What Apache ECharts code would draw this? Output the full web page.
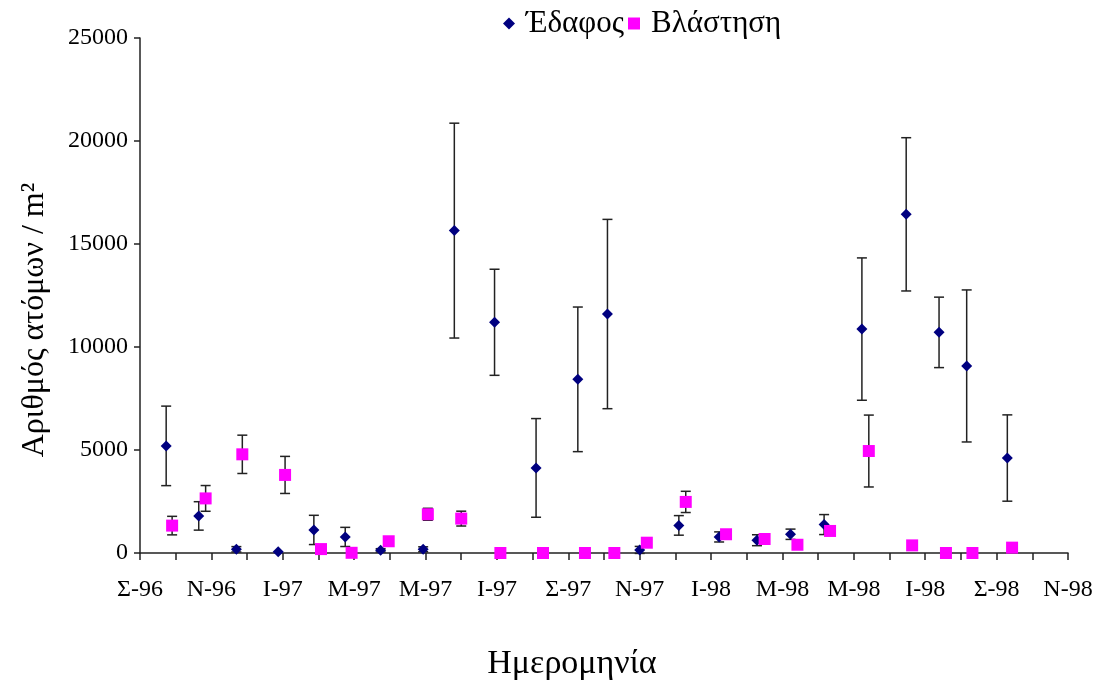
<!DOCTYPE html>
<html>
<head>
<meta charset="utf-8">
<script src="https://cdn.jsdelivr.net/npm/echarts@6/dist/echarts.min.js"></script>
<style>
  html, body { margin: 0; padding: 0; background: #fff; }
  #chart { width: 1099px; height: 684px; }
</style>
</head>
<body>
<div id="chart"></div>
<script>
  // tick labels, one for every second month from Sep 1996
  var monthLabels = ['Σ-96', 'Ν-96', 'Ι-97', 'Μ-97', 'Μ-97', 'Ι-97', 'Σ-97', 'Ν-97', 'Ι-98', 'Μ-98', 'Μ-98', 'Ι-98', 'Σ-98', 'Ν-98']

  // sampling dates and values (individuals / m2) with +/- error
  var soilDates = ['1996-09-23', '1996-10-21', '1996-11-22', '1996-12-28', '1997-01-28', '1997-02-22',
    '1997-03-24', '1997-04-29', '1997-05-26', '1997-06-29', '1997-08-04', '1997-09-09',
    '1997-10-04', '1997-11-01', '1997-12-04', '1998-01-08', '1998-02-09', '1998-03-08',
    '1998-04-06', '1998-05-08', '1998-06-15', '1998-07-13', '1998-08-06', '1998-09-10']
  var soilValues = [5200, 1800, 180, 60, 1120, 780, 130, 180, 15650, 11200, 4130, 8430,
    11600, 150, 1340, 780, 620, 910, 1380, 10870, 16440, 10710, 9080, 4610]
  var soilErrors = [1930, 690, 130, 0, 710, 465, 80, 120, 5215, 2575, 2395, 3510,
    4595, 170, 475, 245, 265, 250, 485, 3455, 3720, 1710, 3690, 2095]

  var vegDates = ['1996-09-28', '1996-10-27', '1996-11-27', '1997-01-03', '1997-02-03', '1997-02-27',
    '1997-03-31', '1997-05-03', '1997-06-01', '1997-07-04', '1997-08-10', '1997-09-15',
    '1997-10-10', '1997-11-07', '1997-12-10', '1998-01-14', '1998-02-15', '1998-03-14',
    '1998-04-11', '1998-05-14', '1998-06-20', '1998-07-19', '1998-08-11', '1998-09-14']
  var vegValues = [1330, 2650, 4790, 3790, 190, 10, 570, 1880, 1670, 0, 0, 0,
    0, 500, 2480, 910, 680, 400, 1070, 4950, 370, 0, 0, 260]
  var vegErrors = [450, 625, 930, 900, 0, 0, 0, 290, 360, 0, 0, 0,
    0, 0, 515, 0, 0, 0, 0, 1745, 0, 0, 0, 0]

  // months since 1 Sep 1996
  function monthPos (s) {
    var p = s.split('-')
    var y = +p[0], m = +p[1], d = +p[2]
    var days = new Date(y, m, 0).getDate()
    return (y - 1996) * 12 + (m - 9) + (d - 1) / days
  }

  function points (dates, vals) {
    return dates.map(function (d, i) { return [monthPos(d), vals[i]] })
  }
  function bars (dates, vals, errs) {
    var out = []
    dates.forEach(function (d, i) {
      if (errs[i] > 0) out.push([monthPos(d), vals[i] - errs[i], vals[i] + errs[i]])
    })
    return out
  }

  function renderErr (params, api) {
    var lo = api.coord([api.value(0), api.value(1)])
    var hi = api.coord([api.value(0), api.value(2)])
    var w = 5
    var st = { stroke: '#222', lineWidth: 1.5 }
    return {
      type: 'group',
      children: [
        { type: 'line', shape: { x1: lo[0], y1: lo[1], x2: hi[0], y2: hi[1] }, style: st },
        { type: 'line', shape: { x1: lo[0] - w, y1: lo[1], x2: lo[0] + w, y2: lo[1] }, style: st },
        { type: 'line', shape: { x1: hi[0] - w, y1: hi[1], x2: hi[0] + w, y2: hi[1] }, style: st }
      ]
    }
  }

  var font = '"Liberation Serif", "DejaVu Serif", serif'
  var myChart = echarts.init(document.getElementById('chart'))
  myChart.setOption({
    animation: false,
    textStyle: { fontFamily: font },
    grid: { left: 140, right: 31, top: 38, bottom: 131 },
    legend: {
      top: 3,
      left: 498,
      itemGap: 4,
      itemWidth: 12,
      itemHeight: 12,
      textStyle: { fontFamily: font, fontSize: 31, color: '#000', padding: [0, 0, 0, 6] },
      data: [
        { name: 'Έδαφος', icon: 'diamond', itemStyle: { color: '#000080' } },
        { name: 'Βλάστηση', icon: 'rect', itemStyle: { color: '#ff00ff' } }
      ]
    },
    xAxis: {
      type: 'value',
      min: 0,
      max: 26,
      interval: 1,
      splitLine: { show: false },
      axisLine: { lineStyle: { color: '#222', width: 1.5 } },
      axisTick: { inside: false, length: 7, lineStyle: { color: '#222', width: 1.5 } },
      axisLabel: {
        margin: 25,
        fontFamily: font,
        fontSize: 24,
        color: '#000',
        formatter: function (v) {
          return v % 2 === 0 ? monthLabels[v / 2] : ''
        }
      }
    },
    yAxis: {
      type: 'value',
      min: 0,
      max: 25000,
      interval: 5000,
      splitLine: { show: false },
      axisLine: { show: true, lineStyle: { color: '#222', width: 1.5 } },
      axisTick: { show: true, length: 6, lineStyle: { color: '#222', width: 1.5 } },
      axisLabel: {
        margin: 12,
        fontFamily: font,
        fontSize: 24,
        color: '#000',
        formatter: function (v) { return String(v) }
      }
    },
    graphic: [
      {
        type: 'text',
        x: 572,
        y: 664,
        style: { text: 'Ημερομηνία', font: '34px ' + font, fill: '#000', textAlign: 'center', textVerticalAlign: 'middle' }
      },
      {
        type: 'text',
        x: 35,
        y: 320,
        rotation: Math.PI / 2,
        style: { text: 'Αριθμός ατόμων / m²', font: '32px ' + font, fill: '#000', textAlign: 'center', textVerticalAlign: 'middle' }
      }
    ],
    series: [
      {
        name: 'Έδαφος err',
        type: 'custom',
        renderItem: renderErr,
        data: bars(soilDates, soilValues, soilErrors),
        z: 1
      },
      {
        name: 'Βλάστηση err',
        type: 'custom',
        renderItem: renderErr,
        data: bars(vegDates, vegValues, vegErrors),
        z: 1
      },
      {
        name: 'Έδαφος',
        type: 'scatter',
        symbol: 'diamond',
        symbolSize: 11,
        itemStyle: { color: '#000080', opacity: 1 },
        data: points(soilDates, soilValues),
        z: 3
      },
      {
        name: 'Βλάστηση',
        type: 'scatter',
        symbol: 'rect',
        symbolSize: 12,
        itemStyle: { color: '#ff00ff', opacity: 1 },
        data: points(vegDates, vegValues),
        z: 3
      }
    ]
  })
</script>
</body>
</html>
